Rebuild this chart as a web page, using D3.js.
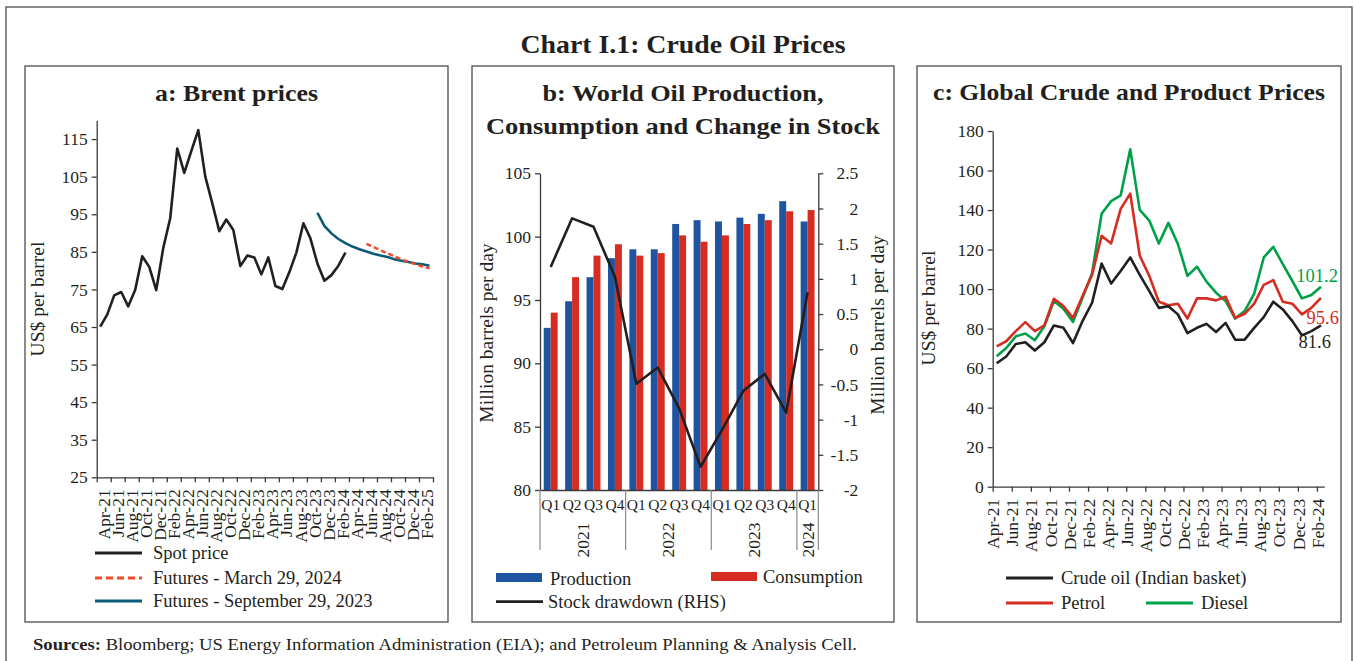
<!DOCTYPE html>
<html>
<head>
<meta charset="utf-8">
<script src="https://cdn.jsdelivr.net/npm/d3@7"></script>
<style>
  body { margin: 0; background: #fff; }
  svg text { font-family: "Liberation Serif", "DejaVu Serif", serif; fill: #231f20; }
  .axis path, .axis line { stroke: #3a3a3a; stroke-width: 1.3; }
  .axis text { font-size: 17.5px; font-family: "Liberation Serif", serif; fill: #231f20; }
  .axis.quarters text { font-size: 15.5px; }
</style>
</head>
<body>
<script>

// ---- panel a: Brent, monthly Apr-21 .. Mar-25
const monthsA = ["Apr-21","May-21","Jun-21","Jul-21","Aug-21","Sep-21","Oct-21","Nov-21","Dec-21",
  "Jan-22","Feb-22","Mar-22","Apr-22","May-22","Jun-22","Jul-22","Aug-22","Sep-22","Oct-22","Nov-22","Dec-22",
  "Jan-23","Feb-23","Mar-23","Apr-23","May-23","Jun-23","Jul-23","Aug-23","Sep-23","Oct-23","Nov-23","Dec-23",
  "Jan-24","Feb-24","Mar-24","Apr-24","May-24","Jun-24","Jul-24","Aug-24","Sep-24","Oct-24","Nov-24","Dec-24",
  "Jan-25","Feb-25","Mar-25"];
const spot = [65.1, 68.3, 73.4, 74.3, 70.5, 74.9, 83.8, 81.0, 74.8, 86.0, 94.0, 112.5, 106.0, 111.8, 117.4,
  105.0, 97.9, 90.5, 93.6, 90.8, 81.2, 84.0, 83.5, 79.0, 83.5, 75.9, 75.1, 79.6, 84.8, 92.6, 88.6, 81.9,
  77.3, 78.8, 81.3, 84.8];
const futSepStart = "Nov-23";
const futSep = [95.4, 91.9, 89.9, 88.4, 87.3, 86.4, 85.7, 85.1, 84.5, 84.0, 83.6, 83.0, 82.6, 82.3, 81.9, 81.7, 81.3];
const futMarStart = "Jun-24";
const futMar = [87.1, 86.3, 85.4, 84.6, 83.8, 83.0, 82.3, 81.7, 81.1, 80.6];
const ticksA = [25, 35, 45, 55, 65, 75, 85, 95, 105, 115];

// ---- panel b: quarterly production / consumption / stock drawdown
const quarters = ["Q1","Q2","Q3","Q4","Q1","Q2","Q3","Q4","Q1","Q2","Q3","Q4","Q1"];
const years = ["2021", "2022", "2023", "2024"];
const yearSpan = [4, 4, 4, 1];
const production = [92.8, 94.9, 96.8, 98.3, 99.0, 99.0, 101.0, 101.3, 101.2, 101.5, 101.8, 102.8, 101.2];
const consumption = [94.0, 96.8, 98.5, 99.4, 98.5, 98.7, 100.1, 99.6, 100.1, 101.0, 101.3, 102.0, 102.1];
const drawdown = [1.17, 1.86, 1.74, 1.03, -0.49, -0.26, -0.84, -1.67, -1.15, -0.59, -0.35, -0.90, 0.81];
const ticksBL = [80, 85, 90, 95, 100, 105];
const ticksBR = [-2, -1.5, -1, -0.5, 0, 0.5, 1, 1.5, 2, 2.5];

// ---- panel c: monthly Apr-21 .. Feb-24
const monthsC = monthsA.slice(0, 35);
const crude = [62.5, 65.9, 72.2, 73.1, 68.9, 73.1, 81.6, 80.4, 72.7, 83.8, 93.1, 112.9, 102.8, 109.2, 116.0,
  107.2, 99.0, 90.5, 91.3, 87.2, 77.7, 80.4, 82.4, 78.3, 82.9, 74.4, 74.4, 80.4, 85.8, 93.6, 89.7, 83.8,
  76.6, 78.7, 81.6];
const petrol = [71.0, 73.6, 78.7, 83.3, 78.7, 81.7, 95.1, 91.4, 85.4, 96.5, 107.2, 127.0, 123.1, 140.6, 148.3,
  116.9, 106.7, 93.6, 91.8, 92.6, 85.1, 95.3, 95.3, 94.3, 96.1, 85.4, 87.5, 92.6, 102.1, 104.5, 93.6, 92.6,
  87.2, 90.5, 95.6];
const diesel = [66.0, 70.2, 76.1, 77.5, 74.1, 81.2, 94.0, 90.0, 83.4, 95.6, 108.0, 138.1, 144.5, 147.4, 170.7,
  140.1, 134.7, 123.1, 133.5, 122.8, 106.7, 111.3, 103.8, 98.2, 94.0, 85.1, 88.9, 97.7, 116.0, 121.4, 112.6,
  104.1, 95.3, 97.0, 101.2];
const ticksC = [0, 20, 40, 60, 80, 100, 120, 140, 160, 180];

const ink = "#231f20";
const frame = "#4d4d4d";

const svg = d3.select("body").append("svg")
  .attr("width", 1355)
  .attr("height", 661);

// helper for plain text
function label(x, y, str, opts) {
  opts = opts || {};
  const t = svg.append("text")
    .attr("x", x).attr("y", y)
    .attr("font-size", opts.size || 18.5)
    .attr("font-weight", opts.bold ? "bold" : null)
    .attr("text-anchor", opts.anchor || "start")
    .style("fill", opts.color || ink)
    .text(str);
  if (opts.width) t.attr("textLength", opts.width).attr("lengthAdjust", "spacingAndGlyphs");
  if (opts.rotate) t.attr("transform", `rotate(-90, ${x}, ${y})`);
  return t;
}

/* frames and titles */
svg.append("rect").attr("x", 6).attr("y", 7).attr("width", 1346).attr("height", 700)
  .attr("fill", "none").attr("stroke", frame).attr("stroke-width", 1.3);
[[25, 448], [472, 894], [917, 1341]].forEach(p => {
  svg.append("rect").attr("x", p[0]).attr("y", 66).attr("width", p[1] - p[0]).attr("height", 556)
    .attr("fill", "none").attr("stroke", frame).attr("stroke-width", 1.3);
});

label(683, 53, "Chart I.1: Crude Oil Prices", {size: 26, bold: true, anchor: "middle", width: 325});
label(236.5, 101, "a: Brent prices", {size: 23, bold: true, anchor: "middle", width: 163});
label(683, 101, "b: World Oil Production,", {size: 23, bold: true, anchor: "middle", width: 281});
label(683, 134, "Consumption and Change in Stock", {size: 23, bold: true, anchor: "middle", width: 394});
label(1129, 100, "c: Global Crude and Product Prices", {size: 23, bold: true, anchor: "middle", width: 392});

const src = svg.append("text").attr("x", 33).attr("y", 650).attr("font-size", 16)
  .attr("textLength", 824).attr("lengthAdjust", "spacingAndGlyphs");
src.append("tspan").attr("font-weight", "bold").text("Sources:");
src.append("tspan").text(" Bloomberg; US Energy Information Administration (EIA); and Petroleum Planning & Analysis Cell.");

/*

  Panel a

*/
const xA = d3.scaleBand().domain(monthsA).range([96.7, 433]);
const xAidx = d3.scaleLinear().domain([0, monthsA.length]).range([96.7, 433]);
const yA = d3.scaleLinear().domain([25, 120]).range([477.3, 120.3]);

svg.append("g").attr("class", "axis")
  .attr("transform", "translate(96.7,0)")
  .call(d3.axisLeft(yA).tickValues(ticksA).tickSize(5).tickSizeOuter(0).tickPadding(4));

// tick marks every two months at band boundaries
svg.append("g").attr("class", "axis")
  .attr("transform", "translate(0,477.3)")
  .call(d3.axisBottom(xAidx).tickValues(d3.range(0, monthsA.length + 1, 2)).tickSize(5).tickSizeOuter(0).tickFormat(""));

// labels centred on each two-month pair
svg.append("g").attr("class", "axis")
  .attr("transform", "translate(0,477.3)")
  .call(d3.axisBottom(xAidx).tickValues(d3.range(1, monthsA.length, 2)).tickSize(0).tickFormat(i => monthsA[i - 1]))
  .call(g => g.select(".domain").remove())
  .selectAll("text")
    .attr("transform", "rotate(-90)")
    .attr("x", -12).attr("y", 0).attr("dy", "0.35em")
    .style("text-anchor", "end");

label(44, 299, "US$ per barrel", {size: 19.5, anchor: "middle", rotate: true});

const lineA = d3.line().x(d => xA(d.m) + xA.bandwidth() / 2).y(d => yA(d.v));
const spotPts = spot.map((v, i) => ({m: monthsA[i], v: v}));
const sepPts = futSep.map((v, i) => ({m: monthsA[monthsA.indexOf(futSepStart) + i], v: v}));
const marPts = futMar.map((v, i) => ({m: monthsA[monthsA.indexOf(futMarStart) + i], v: v}));

svg.append("path").datum(sepPts).attr("d", lineA)
  .attr("fill", "none").attr("stroke", "#0d5a78").attr("stroke-width", 2.6);
svg.append("path").datum(marPts).attr("d", lineA)
  .attr("fill", "none").attr("stroke", "#ef4a23").attr("stroke-width", 2.4).attr("stroke-dasharray", "5,3");
svg.append("path").datum(spotPts).attr("d", lineA)
  .attr("fill", "none").attr("stroke", ink).attr("stroke-width", 2.6).attr("stroke-linejoin", "round");

// legend a
const legA = [
  {name: "Spot price", color: ink, dash: null, y: 553},
  {name: "Futures - March 29, 2024", color: "#ef4a23", dash: "7,4", y: 578},
  {name: "Futures - September 29, 2023", color: "#0d5a78", dash: null, y: 601}
];
legA.forEach(d => {
  svg.append("line").attr("x1", 95).attr("x2", 142).attr("y1", d.y).attr("y2", d.y)
    .attr("stroke", d.color).attr("stroke-width", 2.8).attr("stroke-dasharray", d.dash);
  label(153, d.y + 6, d.name);
});

/*

  Panel b

*/
const xB = d3.scaleBand().domain(d3.range(quarters.length)).range([540, 818.3])
  .paddingInner(0.35).paddingOuter(0.175);
const xB1 = d3.scaleBand().domain(["p", "c"]).range([0, xB.bandwidth()]);
const yBL = d3.scaleLinear().domain([80, 105]).range([490, 173.3]);
const yBR = d3.scaleLinear().domain([-2, 2.5]).range([490, 173.3]);

svg.append("g").selectAll("rect.prod")
  .data(production).enter().append("rect")
    .attr("x", (d, i) => xB(i) + xB1("p"))
    .attr("y", d => yBL(d))
    .attr("width", xB1.bandwidth())
    .attr("height", d => 490 - yBL(d))
    .attr("fill", "#1f55a0");
svg.append("g").selectAll("rect.cons")
  .data(consumption).enter().append("rect")
    .attr("x", (d, i) => xB(i) + xB1("c"))
    .attr("y", d => yBL(d))
    .attr("width", xB1.bandwidth())
    .attr("height", d => 490 - yBL(d))
    .attr("fill", "#d62c22");

svg.append("g").attr("class", "axis")
  .attr("transform", "translate(540,0)")
  .call(d3.axisLeft(yBL).tickValues(ticksBL).tickSize(5).tickSizeOuter(0).tickPadding(4));

svg.append("g").attr("class", "axis")
  .attr("transform", "translate(818.3,0)")
  .call(d3.axisRight(yBR).tickValues(ticksBR).tickSize(5).tickSizeOuter(0).tickFormat(d => String(d)))
  .selectAll("text").attr("x", 40).style("text-anchor", "end");

svg.append("g").attr("class", "axis quarters")
  .attr("transform", "translate(0,490)")
  .call(d3.axisBottom(xB).tickSize(0).tickPadding(9).tickFormat(i => quarters[i]));

// year group separators and labels
let start = 0;
years.forEach((yr, k) => {
  const x0 = xB(start) - xB.step() * xB.paddingOuter();
  const x1 = xB(start + yearSpan[k] - 1) + xB.bandwidth() + xB.step() * xB.paddingOuter();
  svg.append("line").attr("x1", x0).attr("x2", x0).attr("y1", 490).attr("y2", 550)
    .attr("stroke", "#8a8a8a").attr("stroke-width", 1.2);
  if (k === years.length - 1) {
    svg.append("line").attr("x1", x1).attr("x2", x1).attr("y1", 490).attr("y2", 550)
      .attr("stroke", "#8a8a8a").attr("stroke-width", 1.2);
  }
  label((x0 + x1) / 2 + 6, 540, yr, {size: 17.5, anchor: "middle", rotate: true});
  start += yearSpan[k];
});

svg.append("path").datum(drawdown)
  .attr("d", d3.line().x((d, i) => xB(i) + xB.bandwidth() / 2).y(d => yBR(d)))
  .attr("fill", "none").attr("stroke", ink).attr("stroke-width", 2.6).attr("stroke-linejoin", "round");

label(493, 333, "Million barrels per day", {size: 19.5, anchor: "middle", rotate: true});
label(884, 325, "Million barrels per day", {size: 19.5, anchor: "middle", rotate: true});

// legend b
svg.append("rect").attr("x", 496).attr("y", 573).attr("width", 46).attr("height", 9).attr("fill", "#1f55a0");
label(550, 585, "Production");
svg.append("rect").attr("x", 711).attr("y", 572).attr("width", 46).attr("height", 9).attr("fill", "#d62c22");
label(763, 583, "Consumption");
svg.append("line").attr("x1", 496).attr("x2", 543).attr("y1", 601.7).attr("y2", 601.7)
  .attr("stroke", ink).attr("stroke-width", 2.8);
label(548, 608, "Stock drawdown (RHS)");

/*

  Panel c

*/
const tickShift = 0.42;  // month ticks sit slightly left of the data points
const xC = d3.scaleLinear().domain([-tickShift, monthsC.length - 1 + 0.35]).range([992.7, 1324.3]);
const yC = d3.scaleLinear().domain([0, 180]).range([486.7, 131]);

svg.append("g").attr("class", "axis")
  .attr("transform", "translate(992.7,0)")
  .call(d3.axisLeft(yC).tickValues(ticksC).tickSize(5).tickSizeOuter(0).tickPadding(4));

svg.append("g").attr("class", "axis")
  .attr("transform", "translate(0,486.7)")
  .call(d3.axisBottom(xC)
    .tickValues(d3.range(0, monthsC.length, 2).map(i => i - tickShift))
    .tickSize(5).tickSizeOuter(0)
    .tickFormat(v => monthsC[Math.round(v + tickShift)]))
  .selectAll("text")
    .attr("transform", "rotate(-90)")
    .attr("x", -12).attr("y", 0).attr("dy", "0.35em")
    .style("text-anchor", "end");

label(935, 308, "US$ per barrel", {size: 19.5, anchor: "middle", rotate: true});

const lineC = d3.line().x((d, i) => xC(i)).y(d => yC(d));
const seriesC = [
  {name: "Diesel", data: diesel, color: "#00a04a"},
  {name: "Petrol", data: petrol, color: "#d62c22"},
  {name: "Crude oil (Indian basket)", data: crude, color: ink}
];
seriesC.forEach(s => {
  svg.append("path").datum(s.data).attr("d", lineC)
    .attr("fill", "none").attr("stroke", s.color).attr("stroke-width", 2.6).attr("stroke-linejoin", "round");
});

const last = monthsC.length - 1;
label(xC(last) + 17, yC(diesel[last]) - 5, diesel[last].toFixed(1), {anchor: "end", color: "#00a04a"});
label(xC(last) + 18, yC(petrol[last]) + 26, petrol[last].toFixed(1), {anchor: "end", color: "#d62c22"});
label(xC(last) + 10, yC(crude[last]) + 23, crude[last].toFixed(1), {anchor: "end", color: ink});

// legend c
const legC = [
  {name: "Crude oil (Indian basket)", color: ink, x: 1006, y: 578},
  {name: "Petrol", color: "#d62c22", x: 1006, y: 603},
  {name: "Diesel", color: "#00a04a", x: 1146, y: 603}
];
legC.forEach(d => {
  svg.append("line").attr("x1", d.x).attr("x2", d.x + 47).attr("y1", d.y).attr("y2", d.y)
    .attr("stroke", d.color).attr("stroke-width", 2.8);
  label(d.x + 55, d.y + 6, d.name);
});

</script>
</body>
</html>
